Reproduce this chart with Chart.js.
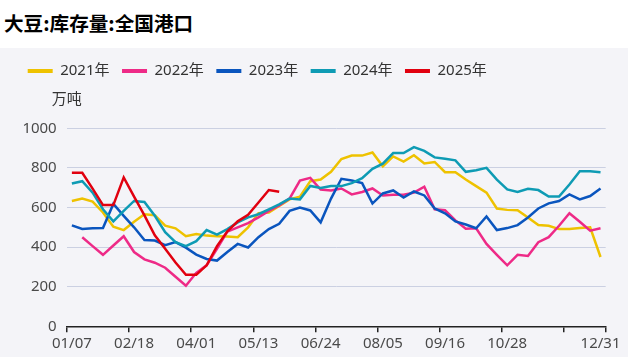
<!DOCTYPE html>
<html><head><meta charset="utf-8">
<script src="https://cdn.jsdelivr.net/npm/chart.js@4"></script>
<style>
html,body{margin:0;padding:0;background:#fff;width:628px;height:357px;overflow:hidden}
#title{position:absolute;left:4px;top:0;height:46px;line-height:46px;font-weight:bold;font-size:19.6px;font-family:"Noto Sans CJK SC";color:#000;white-space:nowrap}
#wrap{position:absolute;left:0;top:48px;width:628px;height:309px;background:#f4f4f8}
</style></head>
<body>
<div id="title">大豆:库存量:全国港口</div>
<div id="wrap"><canvas id="c" width="628" height="309"></canvas></div>
<script>
const categories = ['01/07','01/14','01/21','01/28','02/04','02/11','02/18','02/25','03/04','03/11','03/18','03/25','04/01','04/08','04/15','04/22','04/29','05/06','05/13','05/20','05/27','06/03','06/10','06/17','06/24','07/01','07/08','07/15','07/22','07/29','08/05','08/12','08/19','08/26','09/02','09/09','09/16','09/23','09/30','10/07','10/14','10/21','10/28','11/04','11/11','11/18','11/25','12/02','12/09','12/16','12/23','12/31'];
const tickLabels = ['01/07','02/18','04/01','05/13','06/24','08/05','09/16','10/28','12/31'];
const seriesNames = ['2021年','2022年','2023年','2024年','2025年'];
const unitLabel = '万吨';
const y2021 = [633,645,630,575,503,486,528,566,561,508,495,455,466,458,455,453,450,500,571,575,608,641,655,733,741,780,845,862,862,878,808,858,832,864,822,830,778,778,741,708,675,595,588,586,550,511,508,491,491,496,500,350];
const y2022 = [null,450,405,361,408,455,375,338,321,296,250,205,270,308,391,478,500,521,550,583,611,645,736,750,691,686,696,666,678,696,661,665,665,675,705,591,586,535,493,495,416,361,308,361,355,425,450,508,571,528,483,495];
const y2023 = [510,492,495,496,618,558,500,436,433,410,425,397,362,340,332,375,416,398,450,491,518,583,600,585,525,645,745,736,723,620,671,686,650,681,661,595,571,530,514,495,555,486,496,511,550,595,621,633,666,641,658,696];
const y2024 = [721,733,675,591,530,583,633,628,558,475,425,405,430,486,463,491,525,550,566,591,616,645,641,709,698,708,708,723,748,795,821,875,875,905,886,853,846,838,780,788,800,741,691,678,695,688,655,655,716,783,783,778];
const y2025 = [775,775,695,612,612,752,655,560,460,392,322,260,260,308,405,480,530,563,625,688,680];

const colors = ['#eec200','#ee2a87','#0a55be','#0e9bb4','#e1000f'];
const FONT = '"Noto Sans", "Noto Sans CJK SC", sans-serif';
const seriesValues = [y2021, y2022, y2023, y2024, y2025];

const unitPlugin = {
  id: 'unitLabel',
  afterDraw(chart) {
    const {ctx, chartArea} = chart;
    ctx.save();
    ctx.font = '15px ' + FONT;
    ctx.fillStyle = '#333';
    ctx.textAlign = 'center';
    ctx.textBaseline = 'middle';
    ctx.fillText(unitLabel, chartArea.left, chartArea.top - 28.3);
    ctx.restore();
  }
};

new Chart(document.getElementById('c'), {
  type: 'line',
  data: {
    labels: categories,
    datasets: seriesValues.map((vals, i) => ({
      label: seriesNames[i],
      data: vals,
      borderColor: colors[i],
      backgroundColor: colors[i],
      borderWidth: 2.5,
      pointRadius: 0,
      pointHoverRadius: 0,
      tension: 0,
      fill: false,
      spanGaps: false,
      order: 5 - i
    }))
  },
  options: {
    responsive: false,
    animation: false,
    events: [],
    layout: {padding: {left: 15.2, top: 3, right: 22.3, bottom: 2.7}},
    plugins: {
      tooltip: {enabled: false},
      legend: {
        display: true, position: 'top', align: 'start',
        labels: {
          boxWidth: 25, boxHeight: 4, padding: 12.5, color: '#333',
          font: {size: 15, family: FONT},
          sort: (a, b) => a.datasetIndex - b.datasetIndex,
          generateLabels: (chart) => Chart.defaults.plugins.legend.labels.generateLabels(chart).map(l => Object.assign(l, {lineWidth: 0}))
        }
      },
      subtitle: {display: true, text: '', weight: 500, padding: {top: 0, bottom: 29.8}, font: {size: 10, lineHeight: 1}}
    },
    scales: {
      x: {
        type: 'category', offset: true,
        grid: {
          offset: true, drawOnChartArea: false, drawTicks: true, tickLength: 6, lineWidth: 1.5,
          color: (c) => (c.index === undefined || c.index % 6 === 0) ? '#222' : 'rgba(0,0,0,0)'
        },
        border: {display: true, color: '#222', width: 1.5},
        ticks: {
          autoSkip: false, maxRotation: 0, minRotation: 0, padding: 2, color: '#4a4a4a',
          font: {size: 15, family: FONT},
          callback: function(v, i) { const l = categories[i]; return tickLabels.includes(l) ? l : ''; }
        }
      },
      y: {
        min: 0, max: 1000,
        ticks: {stepSize: 200, padding: 10, color: '#4a4a4a', font: {size: 15, family: FONT}, callback: (v) => String(v)},
        grid: {color: '#cbd0e2', lineWidth: 1, drawTicks: false},
        border: {display: false},
        afterFit: (s) => { s.width = 51.5; }
      }
    }
  },
  plugins: [unitPlugin]
});
</script>
</body></html>
